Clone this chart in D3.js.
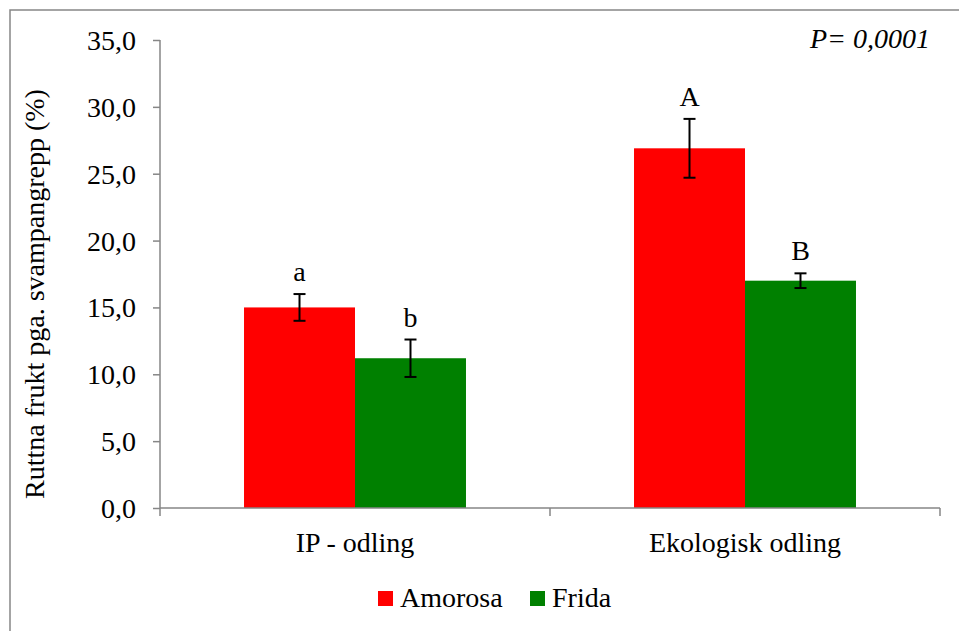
<!DOCTYPE html>
<html>
<head>
<meta charset="utf-8">
<script src="https://cdn.jsdelivr.net/npm/d3@7"></script>
<style>
  html, body { margin: 0; padding: 0; background: #fff; }
  svg { display: block; }
  svg text { font-family: "Liberation Serif", "Times New Roman", Tinos, "DejaVu Serif", serif; }
</style>
</head>
<body>
<svg id="chart" width="959" height="631"></svg>
<script>
// Share of rotten fruit caused by fungal attack, per cultivation system and variety
const categories = ["IP - odling", "Ekologisk odling"];
const seriesNames = ["Amorosa", "Frida"];
const seriesColors = ["#ff0000", "#008000"];
const amorosaValues = [15.0, 26.9];
const fridaValues = [11.2, 17.0];
const amorosaErrors = [1.0, 2.2];
const fridaErrors = [1.4, 0.55];
const amorosaLetters = ["a", "A"];
const fridaLetters = ["b", "B"];
const yTicks = [0, 5, 10, 15, 20, 25, 30, 35];
const yLabel = "Ruttna frukt pga. svampangrepp (%)";
const pValueText = "P= 0,0001";

const series = [
  { name: seriesNames[0], color: seriesColors[0], values: amorosaValues, errors: amorosaErrors, letters: amorosaLetters },
  { name: seriesNames[1], color: seriesColors[1], values: fridaValues, errors: fridaErrors, letters: fridaLetters }
];

const svg = d3.select("#chart");
const axisColor = "#868686";
const fontSize = "28px";
const margin = { left: 160, right: 19, top: 40, bottom: 123 };
const W = 959, H = 631;
const plotW = W - margin.left - margin.right;
const plotH = H - margin.top - margin.bottom;

// outer chart frame
svg.append("rect")
  .attr("x", 10).attr("y", 10)
  .attr("width", W + 20).attr("height", H + 20)
  .attr("fill", "none").attr("stroke", axisColor).attr("stroke-width", 1.5);

const g = svg.append("g").attr("transform", `translate(${margin.left},${margin.top})`);

const x0 = d3.scaleBand().domain(categories).range([0, plotW]).paddingInner(0).paddingOuter(0);
const x1 = d3.scaleBand().domain(seriesNames).range([0, x0.bandwidth()]).paddingInner(0).paddingOuter(0.757);
const y = d3.scaleLinear().domain([0, 35]).range([plotH, 0]);

// y axis
const yAxis = d3.axisLeft(y).tickValues(yTicks).tickSize(7).tickPadding(17)
  .tickFormat(d => d3.format(".1f")(d).replace(".", ","));
const ya = g.append("g").call(yAxis).attr("font-family", null).attr("font-size", null);
ya.select(".domain").attr("stroke", axisColor).attr("stroke-width", 1.5).attr("d", `M0,0V${plotH}`);
ya.selectAll(".tick line").attr("stroke", axisColor).attr("stroke-width", 1.5);
ya.selectAll(".tick text").attr("fill", "#000").style("font-size", fontSize).attr("dy", "0.34em");

// bars
categories.forEach((cat, ci) => {
  series.forEach(s => {
    const bx = x0(cat) + x1(s.name);
    g.append("rect")
      .attr("x", bx).attr("y", y(s.values[ci]))
      .attr("width", x1.bandwidth()).attr("height", plotH - y(s.values[ci]))
      .attr("fill", s.color);
  });
});

// x axis with boundary ticks
const xa = g.append("g").attr("transform", `translate(0,${plotH})`);
xa.append("line").attr("x1", 0).attr("x2", plotW).attr("y1", 0).attr("y2", 0)
  .attr("stroke", axisColor).attr("stroke-width", 1.5);
const boundaries = [0].concat(categories.map(c => x0(c) + x0.bandwidth()));
xa.selectAll("line.bnd").data(boundaries).enter().append("line")
  .attr("class", "bnd")
  .attr("x1", d => d).attr("x2", d => d).attr("y1", 0).attr("y2", 8)
  .attr("stroke", axisColor).attr("stroke-width", 1.5);
xa.selectAll("text.cat").data(categories).enter().append("text")
  .attr("class", "cat")
  .attr("x", d => x0(d) + x0.bandwidth() / 2)
  .attr("y", 44)
  .attr("text-anchor", "middle")
  .style("font-size", fontSize)
  .text(d => d);

// error bars and significance letters
categories.forEach((cat, ci) => {
  series.forEach(s => {
    const cx = x0(cat) + x1(s.name) + x1.bandwidth() / 2;
    const v = s.values[ci], e = s.errors[ci];
    const eg = g.append("g").attr("stroke", "#000").attr("stroke-width", 2);
    eg.append("line").attr("x1", cx).attr("x2", cx).attr("y1", y(v + e)).attr("y2", y(v - e));
    eg.append("line").attr("x1", cx - 6).attr("x2", cx + 6).attr("y1", y(v + e)).attr("y2", y(v + e));
    eg.append("line").attr("x1", cx - 6).attr("x2", cx + 6).attr("y1", y(v - e)).attr("y2", y(v - e));
    g.append("text")
      .attr("x", cx).attr("y", y(v + e) - 13)
      .attr("text-anchor", "middle")
      .style("font-size", fontSize)
      .text(s.letters[ci]);
  });
});

// y axis title
svg.append("text")
  .attr("transform", `translate(44,${margin.top + plotH / 2 + 20}) rotate(-90)`)
  .attr("text-anchor", "middle")
  .style("font-size", fontSize)
  .text(yLabel);

// p-value note
svg.append("text")
  .attr("x", 930).attr("y", 48)
  .attr("text-anchor", "end")
  .style("font-size", fontSize).style("font-style", "italic")
  .text(pValueText);

// legend
const legend = svg.append("g").attr("transform", "translate(378,607)");
const legendOffsets = [0, 152];
series.forEach((s, i) => {
  const lg = legend.append("g").attr("transform", `translate(${legendOffsets[i]},0)`);
  lg.append("rect").attr("x", 0).attr("y", -16).attr("width", 15).attr("height", 15).attr("fill", s.color);
  lg.append("text").attr("x", 22).attr("y", 0).style("font-size", fontSize).text(s.name);
});
</script>
</body>
</html>
